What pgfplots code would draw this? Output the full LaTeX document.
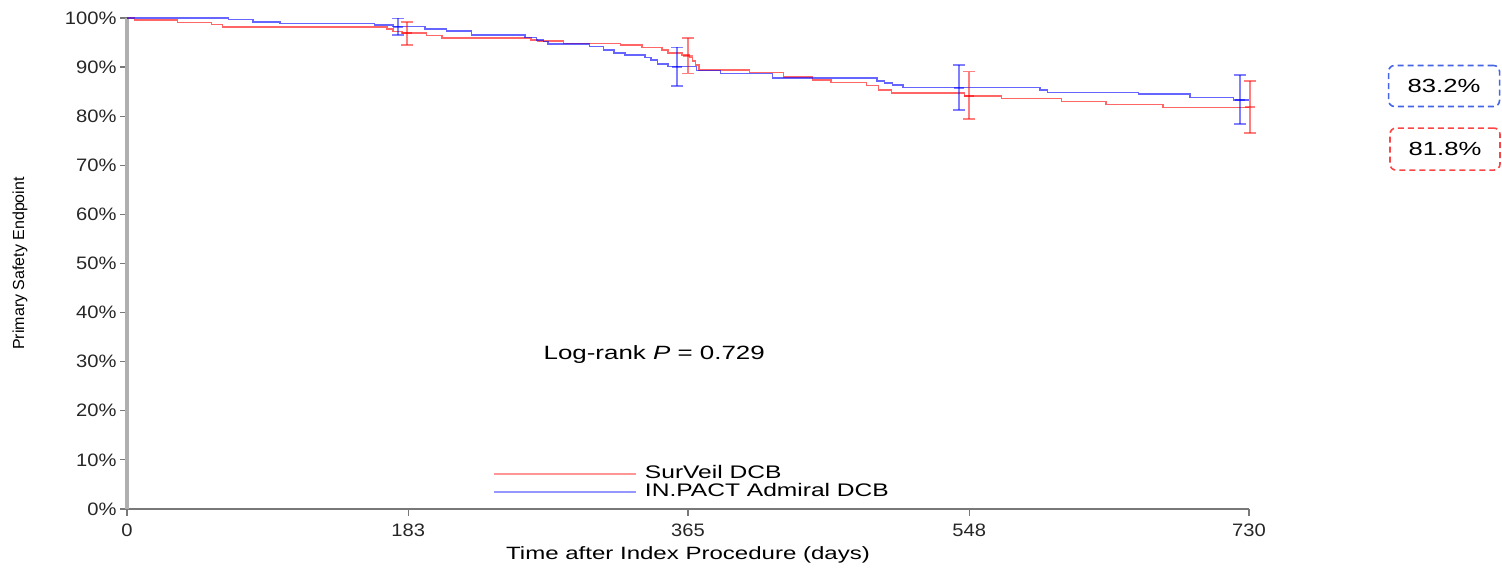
\documentclass[border=0pt]{standalone}
\usepackage{pgfplots}
\pgfplotsset{compat=1.18}
\usepackage{fontspec}
\setmainfont{Liberation Sans}[FakeStretch=1.35]
\newfontfamily\plainfont{Liberation Sans}
\newfontfamily\tickfont{Liberation Sans}[FakeStretch=1.12]

\definecolor{lred}{RGB}{255,150,150}
\definecolor{lblue}{RGB}{150,150,255}
\definecolor{bxblue}{RGB}{70,100,230}
\definecolor{bxred}{RGB}{250,70,70}
\definecolor{axgray}{RGB}{175,175,175}
\definecolor{tkgray}{RGB}{120,120,120}

\begin{document}
\begin{tikzpicture}
\begin{axis}[
  scale only axis,
  width=561pt, height=245.5pt,
  xmin=0, xmax=730, ymin=0, ymax=100,
  axis lines*=left,
  clip=false,
  y axis line style={axgray, line width=1.8pt},
  x axis line style={tkgray, line width=0.7pt},
  tick align=outside,
  major tick length=3.5pt,
  tick style={tkgray, line width=0.6pt},
  xtick={0,183,365,548,730},
  xticklabels={0,183,365,548,730},
  ytick={0,10,...,100},
  yticklabels={0\%,10\%,20\%,30\%,40\%,50\%,60\%,70\%,80\%,90\%,100\%},
  tick label style={font=\tickfont\fontsize{9}{10}\selectfont, text=black!85},
  yticklabel style={xshift=1.8pt},
  xticklabel style={yshift=-0.5pt},
  every axis x label/.style={at={(axis description cs:0.5,0)}, anchor=center, yshift=-23pt, font=\fontsize{8.9}{10}\selectfont},
  every axis y label/.style={at={(axis description cs:-0.0954,0.5)}, anchor=center, rotate=90, font=\plainfont\fontsize{8}{9}\selectfont},
  xlabel={Time after Index Procedure (days)},
  ylabel={Primary Safety Endpoint},
  legend image code/.code={\draw[#1] (0pt,0pt) -- (71pt,0pt);},
  legend cell align=left,
  legend style={draw=none, fill=none, at={(axis cs:238.1,5.3)}, anchor=west,
    inner sep=0pt, column sep=4pt, row sep=1.5pt,
    font=\fontsize{9.1}{10}\selectfont,
    nodes={inner sep=0pt, text height=6pt, text depth=1.5pt}},
]
\addlegendimage{lred, line width=0.8pt}
\addlegendentry{SurVeil DCB}
\addlegendimage{lblue, line width=0.8pt}
\addlegendentry{IN.PACT Admiral DCB}

% SurVeil DCB (red)
\addplot[const plot mark left, red, opacity=0.6, line width=0.75pt, forget plot] coordinates {
(0,100) (5,99.6) (33,99.1) (55,98.7) (62,98.2) (169,97.8) (173,97.2) (179,96.9)
(195,96.4) (205,95.9) (263,95.5) (267,95.3) (284,94.8) (321,94.5) (335,94.0)
(348,93.5) (352,92.9) (361,92.5) (366,92.0) (368,91.2) (370,90.4) (372,89.4)
(405,88.9) (427,88.0) (446,87.4) (458,86.9) (481,86.2) (489,85.3) (497.5,84.7)
(545,84.1) (569,83.6) (608,83.0) (637,82.4) (674,81.8) (730,81.8)
};
% IN.PACT Admiral DCB (blue)
\addplot[const plot mark left, blue, opacity=0.6, line width=0.75pt, forget plot] coordinates {
(0,100) (66,99.7) (82,99.2) (99.5,98.9) (161,98.6) (173,98.3) (194,97.8) (208,97.4)
(224,96.5) (259,96.0) (266.5,95.5) (271,95.2) (274,94.7) (301,94.2) (310,93.5)
(317,92.9) (324,92.5) (337,92.0) (341,91.4) (345,90.6) (352,90.1) (370.6,89.3)
(386,88.7) (420,87.8) (488,87.2) (493,86.8) (498,86.4) (505,85.8) (594,85.3)
(599,84.8) (658,84.5) (691.6,83.8) (720,83.3) (730,83.3)
};
% error bars blue
\addplot[only marks, blue, opacity=0.5, mark=-, mark size=2.5pt, line width=1pt, forget plot,
  error bars/.cd, y dir=both, y explicit,
  error bar style={line width=1pt, blue},
  error mark options={rotate=90, blue, mark size=3pt, line width=0.9pt}]
coordinates {
(176,98.2) += (0,1.7) -= (0,1.7)
(358,90.1) += (0,3.9) -= (0,3.9)
(541,85.8) += (0,4.6) -= (0,4.5)
(724,83.3) += (0,5.1) -= (0,4.9)
};
% error bars red
\addplot[only marks, red, opacity=0.5, mark=-, mark size=2.5pt, line width=1pt, forget plot,
  error bars/.cd, y dir=both, y explicit,
  error bar style={line width=1pt, red},
  error mark options={rotate=90, red, mark size=3pt, line width=0.9pt}]
coordinates {
(182,96.9) += (0,2.3) -= (0,2.4)
(365,92.3) += (0,3.7) -= (0,3.6)
(548,84.1) += (0,5.0) -= (0,4.7)
(730.6,81.8) += (0,5.4) -= (0,5.3)
};

\node[font=\fontsize{9.6}{11}\selectfont] at (axis cs:343,31.4) {Log-rank \textit{P} = 0.729};
\node[draw=bxblue, dash pattern=on 3pt off 2pt, rounded corners=3pt, line width=0.8pt,
  minimum width=55.5pt, minimum height=20.5pt, font=\fontsize{9.5}{11}\selectfont]
  at (axis cs:856.9,86.15) {83.2\%};
\node[draw=bxred, dash pattern=on 3pt off 2pt, rounded corners=3pt, line width=0.8pt,
  minimum width=55pt, minimum height=21pt, font=\fontsize{9.5}{11}\selectfont]
  at (axis cs:857.5,73.3) {81.8\%};
\end{axis}
\path ([shift={(-63.5pt,-28.5pt)}]current axis.south west) rectangle ([shift={(126.5pt,9pt)}]current axis.north east);
\end{tikzpicture}
\end{document}
